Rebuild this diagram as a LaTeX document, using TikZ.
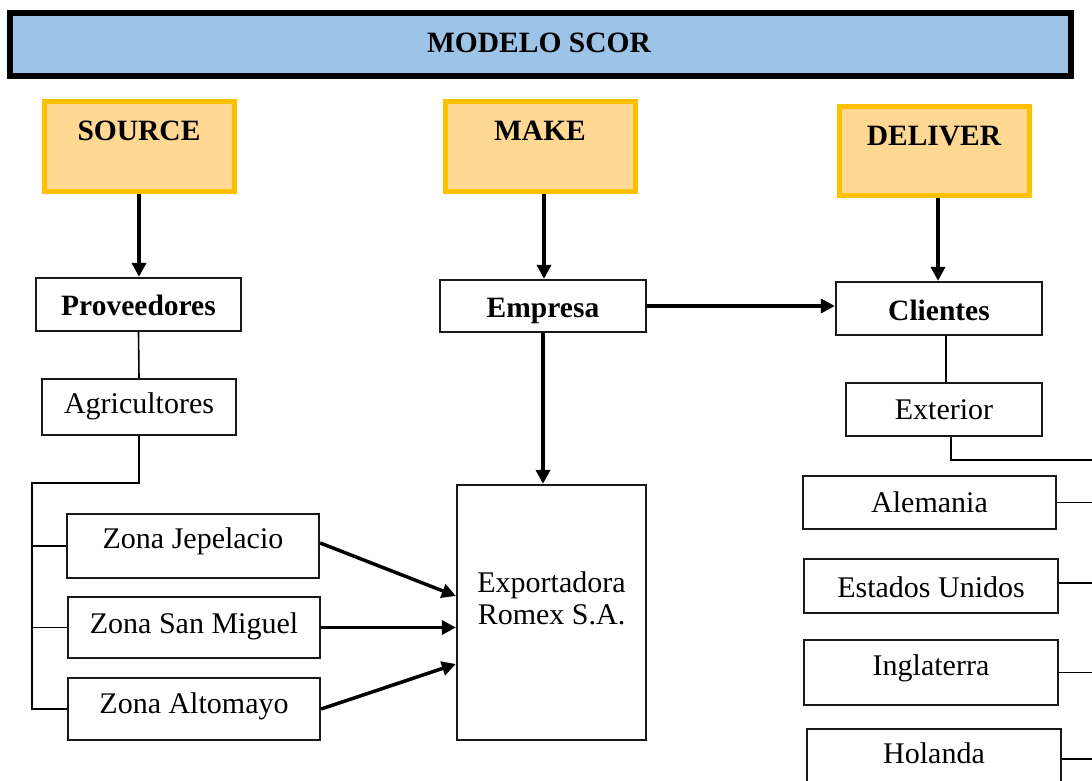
\documentclass[tikz,border=0pt]{standalone}
\usepackage{fontspec}
\setmainfont{Liberation Serif}
\usetikzlibrary{arrows.meta}
\definecolor{titleblue}{HTML}{9DC3E6}
\definecolor{orfill}{HTML}{FFD993}
\definecolor{ordraw}{HTML}{FFC000}
\tikzset{
  wbox/.style={draw=black!90, line width=2.3pt, fill=white, inner sep=0pt, text height=24pt},
  dp/.style={text depth=#1pt},
  ybox/.style={draw=ordraw, line width=5pt, fill=orfill, inner sep=0pt},
  txt/.style={font=\fontsize{30}{32}\selectfont},
  btxt/.style={font=\fontsize{29.5}{34}\selectfont\bfseries},
  arr/.style={line width=3.5pt, -{Triangle[length=14pt,width=14pt]}},
  thin/.style={line width=1.6pt}
}
\begin{document}
\begin{tikzpicture}[x=1pt,y=-1pt]
\clip (0,0) rectangle (1092,781);
\fill[white] (0,0) rectangle (1092,781);
% title
\node[draw=black, line width=6pt, fill=titleblue, minimum width=1061pt, minimum height=63pt, inner sep=0pt] (title) at (540,45) {};
\node[btxt] (titlet) at (539,43) {MODELO SCOR};
% SOURCE MAKE DELIVER
\node[ybox, minimum width=190pt, minimum height=89pt] (src) at (139,146.5) {};
\node[btxt] (srct) at (139,131) {SOURCE};
\node[ybox, minimum width=190pt, minimum height=89pt] (mak) at (540,146.5) {};
\node[btxt] (makt) at (540,131) {MAKE};
\node[ybox, minimum width=190pt, minimum height=89pt] (del) at (934,151) {};
\node[btxt] (delt) at (934,136) {DELIVER};
% second row
\node[wbox, dp=3, btxt, minimum width=205pt, minimum height=53pt] (prov) at (138.5,304.5) {Proveedores};
\node[wbox, dp=2, btxt, minimum width=206pt, minimum height=52pt] (emp) at (543,306) {Empresa};
\node[wbox, dp=1, btxt, minimum width=206pt, minimum height=53pt] (cli) at (939,308.5) {Clientes};
% source side
\node[wbox, dp=12, txt, minimum width=194pt, minimum height=56pt] (agr) at (139,407) {Agricultores};
\node[wbox, dp=20, txt, minimum width=252pt, minimum height=64pt] (jep) at (193,546) {Zona Jepelacio};
\node[wbox, dp=13, txt, minimum width=252pt, minimum height=61pt] (smi) at (194,627.5) {Zona San Miguel};
\node[wbox, dp=16, txt, minimum width=252pt, minimum height=62pt] (alt) at (194,709) {Zona Altomayo};
% make side
\node[wbox, minimum width=189pt, minimum height=255pt] (exp) at (551.5,612.5) {};
\node[txt, align=center] (expt) at (551.5,598) {Exportadora\\Romex S.A.};
% deliver side
\node[wbox, dp=5, txt, minimum width=196pt, minimum height=53pt] (ext) at (944,409.5) {Exterior};
\node[wbox, dp=5, txt, minimum width=253pt, minimum height=53pt] (ale) at (929.5,502.5) {Alemania};
\node[wbox, dp=2, txt, minimum width=254pt, minimum height=54pt] (eeu) at (931,586) {Estados Unidos};
\node[wbox, dp=19, txt, minimum width=254pt, minimum height=65pt] (ing) at (931,672.5) {Inglaterra};
\node[wbox, minimum width=254pt, minimum height=70pt] (hol) at (934,764) {};
\node[txt, anchor=base] (holt) at (934,763) {Holanda};
% arrows
\draw[arr] (src.south) -- (src.south |- prov.north);
\draw[arr] ([xshift=4pt]mak.south) -- ([xshift=4pt]mak.south |- emp.north);
\draw[arr] ([xshift=4pt]del.south) -- ([xshift=4pt]del.south |- cli.north);
\draw[arr] (emp.south) -- (emp.south |- exp.north);
\draw[arr] (emp.east) -- (emp.east -| cli.west);
\draw[arr] ([yshift=3pt]jep.east) -- ([yshift=16.5pt]exp.west);
\draw[arr] (smi.east) -- (smi.east -| exp.west);
\draw[arr] (alt.east) -- ([yshift=-51.5pt]exp.west);
% tree lines left
\coordinate (lt) at (32,483);
\draw[thin] (prov.south) -- (agr.north);
\draw[thin] (agr.south) |- (lt) -- (lt |- alt.west) -- (alt.west);
\draw[thin] (lt |- jep.west) -- (jep.west);
\draw[thin] (lt |- smi.west) -- (smi.west);
% tree lines right
\coordinate (re) at (1095,460);
\draw[thin] ([xshift=7pt]cli.south) -- ([xshift=2pt]ext.north);
\draw[thin] ([xshift=7pt]ext.south) |- (re);
\draw[thin] (ale.east) -- (ale.east -| re);
\draw[thin] ([yshift=3pt]eeu.east) -- ([yshift=3pt]eeu.east -| re);
\draw[thin] (ing.east) -- (ing.east -| re);
\draw[thin] ([yshift=5pt]hol.east) -- ([yshift=5pt]hol.east -| re);
\end{tikzpicture}
\end{document}
